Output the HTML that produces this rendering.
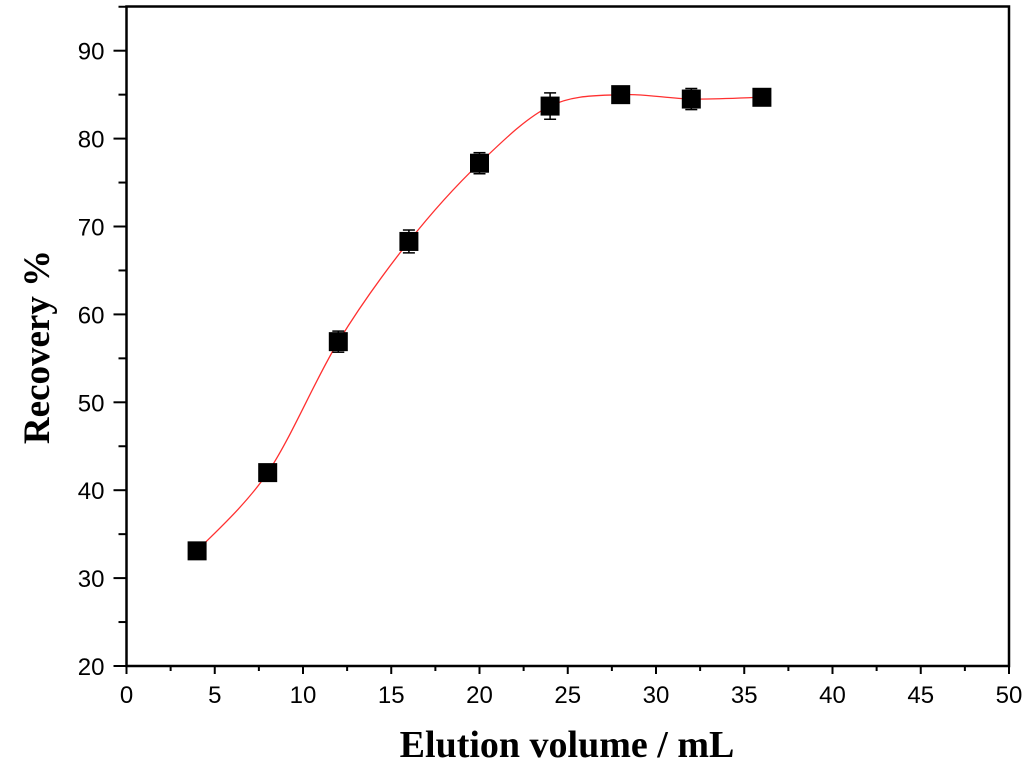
<!DOCTYPE html>
<html><head><meta charset="utf-8"><style>
body{margin:0;background:#fff;}
svg{display:block;font-family:"Liberation Sans",sans-serif;}
</style></head><body>
<svg id="chart" width="1024" height="765" viewBox="0 0 1024 765">
<g id="axes"></g><g id="marks"></g>
<text x="567" y="757" text-anchor="middle" font-family="Liberation Serif, serif" font-weight="bold" font-size="38">Elution volume / mL</text>
<text transform="translate(49,347) rotate(-90)" text-anchor="middle" font-family="Liberation Serif, serif" font-weight="bold" font-size="37">Recovery %</text>
</svg>
<script>
const xValues=[4,8,12,16,20,24,28,32,36];
const yValues=[33.1,42.0,56.9,68.3,77.2,83.7,85.0,84.5,84.7];
const yErrors=[0.9,0.6,1.2,1.3,1.2,1.5,0.6,1.2,0.9];
const xTicks=[0,5,10,15,20,25,30,35,40,45,50];
const yTicks=[20,30,40,50,60,70,80,90];
const L=126.5,R=1009,T=6.5,B=666;
const sx=v=>L+(v-0)/50*(R-L);
const ys=v=>666-(v-20)*(666-50.7)/70;
const NS="http://www.w3.org/2000/svg";
const ax=document.getElementById('axes'),mk=document.getElementById('marks');
function el(p,t,a){const e=document.createElementNS(NS,t);for(const k in a)e.setAttribute(k,a[k]);p.appendChild(e);return e;}
const frame=el(ax,'rect',{x:L,y:T,width:R-L,height:B-T,fill:'none',stroke:'#000','stroke-width':2.5});


xTicks.forEach((v,i)=>{
  const t=el(ax,'line',{x1:sx(v),x2:sx(v),y1:B,y2:B+8,stroke:'#000','stroke-width':2});
  
  
  if(i<xTicks.length-1){const m=el(ax,'line',{x1:sx(v+2.5),x2:sx(v+2.5),y1:B,y2:B+5,stroke:'#000','stroke-width':2});
  
  }
  const tx=el(ax,'text',{x:sx(v),y:B+37,'text-anchor':'middle','font-size':24});tx.textContent=v;
  
  
});
yTicks.forEach((v,i)=>{
  const t=el(ax,'line',{x1:L-13,x2:L,y1:ys(v),y2:ys(v),stroke:'#000','stroke-width':2});
  
  
  const m=el(ax,'line',{x1:L-8,x2:L,y1:ys(v+5),y2:ys(v+5),stroke:'#000','stroke-width':2});
  
  
  const tx=el(ax,'text',{x:L-22,y:ys(v)+9,'text-anchor':'end','font-size':24});tx.textContent=v;
  
  
});
// smooth fit curve (Catmull-Rom) through the points
const P=xValues.map((x,i)=>[sx(x),ys(yValues[i])]);
let d=`M${P[0][0]},${P[0][1]}`;
for(let i=0;i<P.length-1;i++){const p0=P[i-1]||P[i],p1=P[i],p2=P[i+1],p3=P[i+2]||P[i+1];
d+=` C${p1[0]+(p2[0]-p0[0])/6},${p1[1]+(p2[1]-p0[1])/6} ${p2[0]-(p3[0]-p1[0])/6},${p2[1]-(p3[1]-p1[1])/6} ${p2[0]},${p2[1]}`;}
const c=el(mk,'path',{d:d,fill:'none',stroke:'#ff3030','stroke-width':1.3});


xValues.forEach((x,i)=>{
  const cx=sx(x),cy=ys(yValues[i]),e1=ys(yValues[i]+yErrors[i]),e2=ys(yValues[i]-yErrors[i]);
  const g=el(mk,'g',{});
  
  
  el(g,'line',{x1:cx,x2:cx,y1:e1,y2:e2,stroke:'#000','stroke-width':1.5});
  el(g,'line',{x1:cx-6,x2:cx+6,y1:e1,y2:e1,stroke:'#000','stroke-width':1.5});
  el(g,'line',{x1:cx-6,x2:cx+6,y1:e2,y2:e2,stroke:'#000','stroke-width':1.5});
  el(g,'rect',{x:cx-9.5,y:cy-9.5,width:19,height:19,fill:'#000'});
});
</script>
</body></html>
